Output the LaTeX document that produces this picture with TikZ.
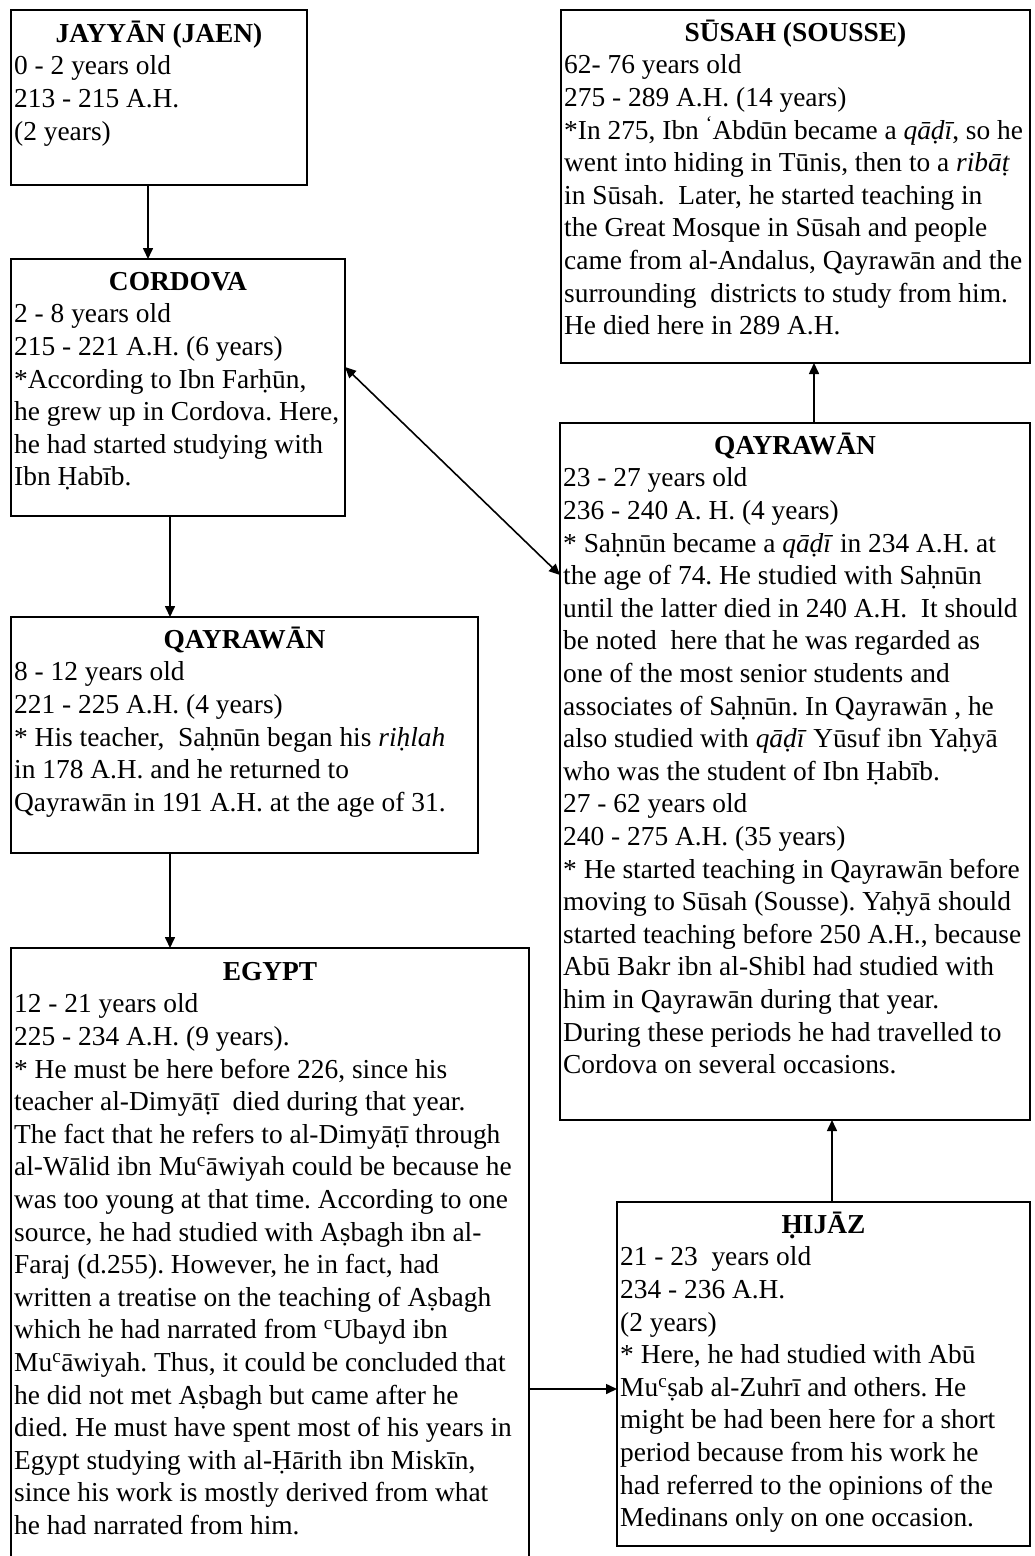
\documentclass[tikz,border=0pt]{standalone}
\usepackage{fontspec}
\setmainfont{Liberation Serif}
\usetikzlibrary{arrows.meta,calc}
\frenchspacing
\newcommand\ay{\textsuperscript{c}}
\tikzset{
 frame/.style={draw, line width=1.6pt, inner sep=0pt, outer sep=0pt, anchor=north west},
 ttl/.style={font=\fontsize{27.4}{32.6}\selectfont\bfseries, anchor=base, inner sep=0pt},
 body/.style={font=\fontsize{27.4}{32.6}\selectfont, align=left, anchor=north west, inner sep=0pt},
 arr/.style={line width=1.6pt, -{Triangle[length=11pt,width=10pt]}},
 darr/.style={line width=1.6pt, {Triangle[length=11pt,width=10pt]}-{Triangle[length=11pt,width=10pt]}}
}
\begin{document}
\begin{tikzpicture}[x=1pt,y=-1pt]
\fill[white] (0,0) rectangle (1035,1556);
\useasboundingbox (0,0) rectangle (1035,1556);
\clip (0,0) rectangle (1035,1556);
% ---------- boxes ----------
\node[frame, minimum width=296pt, minimum height=175pt] (jay) at (11,10) {};
\node[frame, minimum width=334pt, minimum height=257pt] (cor) at (11,259) {};
\node[frame, minimum width=467pt, minimum height=236pt] (ql) at (11,617) {};
\node[frame, minimum width=518pt, minimum height=660pt] (egy) at (11,948) {};
\node[frame, minimum width=469pt, minimum height=353pt] (sus) at (561,10) {};
\node[frame, minimum width=470pt, minimum height=697pt] (qr) at (560,423) {};
\node[frame, minimum width=413pt, minimum height=344pt] (hij) at (617,1202) {};
% ---------- JAYYAN ----------
\node[ttl] (jayt) at (159,42) {JAYYĀN (JAEN)};
\node[body] (jayb) at (14,54.6) {\rule{0pt}{20pt}0 - 2 years old\\
213 - 215 A.H.\\
(2 years)};
% ---------- CORDOVA ----------
\node[ttl] (cort) at (178,290) {CORDOVA};
\node[body] (corb) at (14,302.6) {\rule{0pt}{20pt}2 - 8 years old\\
215 - 221 A.H. (6 years)\\
*According to Ibn Farḥūn,\\
he grew up in Cordova. Here,\\
he had started studying with\\
Ibn Ḥabīb.};
% ---------- QAYRAWAN (left) ----------
\node[ttl] (qlt) at (244.5,648) {QAYRAWĀN};
\node[body] (qlb) at (14,660.6) {\rule{0pt}{20pt}8 - 12 years old\\
221 - 225 A.H. (4 years)\\
* His teacher,\ \ Saḥnūn began his \textit{riḥlah}\\
in 178 A.H. and he returned to\\
Qayrawān in 191 A.H. at the age of 31.};
% ---------- EGYPT ----------
\node[ttl] (egyt) at (270,980) {EGYPT};
\node[body] (egyb) at (14,992.6) {\rule{0pt}{20pt}12 - 21 years old\\
225 - 234 A.H. (9 years).\\
* He must be here before 226, since his\\
teacher al-Dimyāṭī\ \ died during that year.\\
The fact that he refers to al-Dimyāṭī through\\
al-Wālid ibn Mu\ay āwiyah could be because he\\
was too young at that time. According to one\\
source, he had studied with Aṣbagh ibn al-\\
Faraj (d.255). However, he in fact, had\\
written a treatise on the teaching of Aṣbagh\\
which he had narrated from \ay Ubayd ibn\\
Mu\ay āwiyah. Thus, it could be concluded that\\
he did not met Aṣbagh but came after he\\
died. He must have spent most of his years in\\
Egypt studying with al-Ḥārith ibn Miskīn,\\
since his work is mostly derived from what\\
he had narrated from him.};
% ---------- SUSAH ----------
\node[ttl] (sust) at (795.5,41) {SŪSAH (SOUSSE)};
\node[body] (susb) at (564,53.6) {\rule{0pt}{20pt}62- 76 years old\\
275 - 289 A.H. (14 years)\\
*In 275, Ibn \textsuperscript{‘}Abdūn became a \textit{qāḍī}, so he\\
went into hiding in Tūnis, then to a \textit{ribāṭ}\\
in Sūsah.\ \ Later, he started teaching in\\
the Great Mosque in Sūsah and people\\
came from al-Andalus, Qayrawān and the\\
surrounding\ \ districts to study from him.\\
He died here in 289 A.H.};
% ---------- QAYRAWAN (right) ----------
\node[ttl] (qrt) at (795,454) {QAYRAWĀN};
\node[body] (qrb) at (563,466.6) {\rule{0pt}{20pt}23 - 27 years old\\
236 - 240 A. H. (4 years)\\
* Saḥnūn became a \textit{qāḍī} in 234 A.H. at\\
the age of 74. He studied with Saḥnūn\\
until the latter died in 240 A.H.\ \ It should\\
be noted\ \ here that he was regarded as\\
one of the most senior students and\\
associates of Saḥnūn. In Qayrawān , he\\
also studied with \textit{qāḍī} Yūsuf ibn Yaḥyā\\
who was the student of Ibn Ḥabīb.\\
27 - 62 years old\\
240 - 275 A.H. (35 years)\\
* He started teaching in Qayrawān before\\
moving to Sūsah (Sousse). Yaḥyā should\\
started teaching before 250 A.H., because\\
Abū Bakr ibn al-Shibl had studied with\\
him in Qayrawān during that year.\\
During these periods he had travelled to\\
Cordova on several occasions.};
% ---------- HIJAZ ----------
\node[ttl] (hijt) at (823.5,1233) {ḤIJĀZ};
\node[body] (hijb) at (620,1245.6) {\rule{0pt}{20pt}21 - 23\ \ years old\\
234 - 236 A.H.\\
(2 years)\\
* Here, he had studied with Abū\\
Mu\ay ṣab al-Zuhrī and others. He\\
might be had been here for a short\\
period because from his work he\\
had referred to the opinions of the\\
Medinans only on one occasion.};
% ---------- connectors ----------
\draw[arr] ([xshift=137pt]jay.south west) -- ([xshift=137pt]cor.north west);
\draw[arr] ([xshift=159pt]cor.south west) -- ([xshift=159pt]ql.north west);
\draw[arr] ([xshift=159pt]ql.south west) -- ([xshift=159pt]egy.north west);
\draw[darr] ([yshift=-108pt]cor.north east) -- ([yshift=-152pt]qr.north west);
\draw[arr] ([xshift=254pt]qr.north west) -- ([xshift=253pt]sus.south west);
\draw[arr] ([xshift=215pt]hij.north west) -- ([xshift=272pt]qr.south west);
\draw[arr] ([yshift=-441pt]egy.north east) -- ([yshift=-187pt]hij.north west);
\end{tikzpicture}
\end{document}
